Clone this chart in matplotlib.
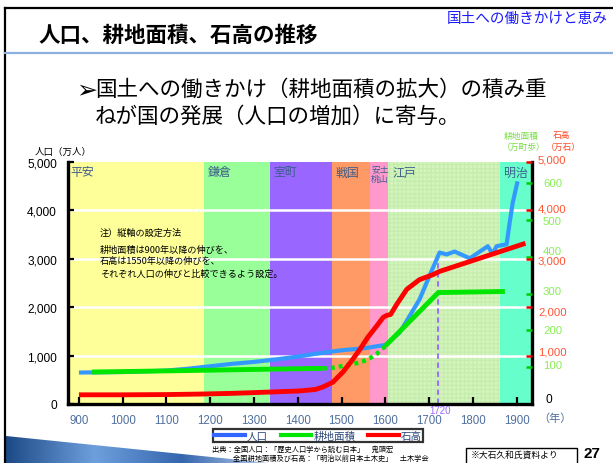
import numpy as np
import matplotlib
matplotlib.use("Agg")
import matplotlib.pyplot as plt
from matplotlib.patches import Polygon, Rectangle
from matplotlib.lines import Line2D

plt.rcParams['font.family'] = ['Noto Sans CJK JP', 'DejaVu Sans']

# population (万人)
pop_years = [900, 1000, 1100, 1150, 1200, 1250, 1300, 1350, 1400, 1450, 1500, 1550, 1600,
             1633, 1678, 1708, 1724, 1740, 1758, 1793, 1834, 1845, 1854, 1877, 1884, 1891, 1902]
pop_vals = [650, 660, 690, 730, 780, 830, 870, 920, 980, 1050, 1110, 1150, 1220,
            1480, 2160, 2800, 3130, 3090, 3150, 3010, 3260, 3100, 3260, 3300, 3750, 4160, 4600]

# cultivated area (万町歩): solid / dotted / solid
area_years_a = [930, 1100, 1200, 1300, 1457]
area_vals_a = [87, 90, 92, 94, 97]
area_years_b = [1457, 1477, 1496, 1515, 1534, 1549, 1564, 1580, 1591, 1602]
area_vals_b = [97, 98, 102, 106, 111, 116, 124, 136, 149, 158]
area_years_c = [1600, 1721, 1873]
area_vals_c = [158, 303, 306]

# kokudaka (万石)
koku_years = [900, 1000, 1100, 1176, 1250, 1300, 1404, 1440, 1457, 1480, 1503, 1522, 1542,
              1560, 1580, 1595, 1603, 1612, 1626, 1649, 1678, 1708, 1724, 1920]
koku_vals = [190, 190, 195, 205, 220, 235, 270, 300, 350, 450, 660, 880, 1130,
             1380, 1610, 1790, 1830, 1850, 2060, 2370, 2570, 2670, 2740, 3320]

era_names = ['平安', '鎌倉', '室町', '戦国', '安土\n桃山', '江戸', '明治']
era_bounds = [875, 1185, 1336, 1478, 1565, 1605, 1862, 1935]
era_colors = ['#FFFF99', '#99FF99', '#9966FF', '#FF9966', '#FF99CC', '#D3F5BD', '#66FFCC']

x_ticks = [900, 1000, 1100, 1200, 1300, 1400, 1500, 1600, 1700, 1800, 1900]
pop_ticks = [0, 1000, 2000, 3000, 4000, 5000]
area_ticks = [100, 200, 300, 400, 500, 600]
koku_ticks = [1000, 2000, 3000, 4000, 5000]
mark_year = 1720
mark_top = 3100

W, H = 613, 464
fig = plt.figure(figsize=(W / 100, H / 100), dpi=100)

# pixel-coordinate overlay layer (drawn on top)
bg = fig.add_axes([0, 0, 1, 1])
bg.set_zorder(10)
bg.axis('off')

bg.plot([5, 5], [9, H], color='black', lw=1.6)
bg.plot([5, W], [9, 9], color='black', lw=1.6)
bg.plot([5, W], [54, 54], color='#8DB0DE', lw=1.6)

grad = np.linspace(0, 1, 256)
grad = np.vstack([grad, grad])
swoosh = Polygon([(6, 437), (270, 464), (6, 464)], closed=True, transform=bg.transData,
                 facecolor='none', edgecolor='none')
bg.add_patch(swoosh)
cm = matplotlib.colors.LinearSegmentedColormap.from_list(
    'sw', ['#1C4A86', '#6E9FDD', '#3566AE', '#BCD0EE'])
im = bg.imshow(grad, cmap=cm, extent=[6, 270, 464, 437], aspect='auto')
im.set_clip_path(swoosh)
bg.set_xlim(0, W)
bg.set_ylim(H, 0)

bg.text(38, 35, '人口、耕地面積、石高の推移', fontsize=15.5, fontweight='bold', va='center')
bg.text(447, 19, '国土への働きかけと恵み', fontsize=10.5, color='#1a1aff', va='center')
bg.text(76, 90, '➢', fontsize=18, va='center', family='DejaVu Sans')
bg.text(95, 90, '国土への働きかけ（耕地面積の拡大）の積み重', fontsize=15.5, va='center')
bg.text(95, 117, 'ねが国の発展（人口の増加）に寄与。', fontsize=15.5, va='center')

bg.text(35, 152, '人口（万人）', fontsize=6.8, va='center')
bg.text(504, 136, '耕地面積', fontsize=6.3, color='#77DD44', va='center')
bg.text(553, 136, '石高', fontsize=6.3, color='#FF4422', va='center')
bg.text(502, 147, '（万町歩）', fontsize=6.3, color='#77DD44', va='center')
bg.text(546, 147, '（万石）', fontsize=6.3, color='#FF4422', va='center')
bg.text(538, 419, '（年）', fontsize=8, color='#4F6F9F', va='center')

bg.text(212, 450, '出典：全国人口：「歴史人口学から読む日本」　鬼頭宏', fontsize=5.2, va='center')
bg.text(233, 459, '全国耕地面積及び石高：「明治以前日本土木史」　土木学会', fontsize=5.2, va='center')
bg.add_patch(Rectangle((466, 449), 111, 20, facecolor='white', edgecolor='black', lw=1))
bg.text(471, 455, '※大石久和氏資料より', fontsize=6.3, va='center')
bg.text(584, 454, '27', fontsize=11, fontweight='bold', va='center', family='Liberation Sans')

# main chart
ax = fig.add_axes([68 / W, 59 / H, 464 / W, 242 / H])
ax.set_xlim(era_bounds[0], era_bounds[-1])
ax.set_ylim(0, 5000)
for i, name in enumerate(era_names):
    ax.axvspan(era_bounds[i], era_bounds[i + 1], color=era_colors[i], lw=0, zorder=0.5)
ax.axvspan(era_bounds[5], era_bounds[6], facecolor='none', edgecolor='#C6EDAE',
           hatch='++++', lw=0, zorder=0.6)
for t in pop_ticks[1:-1]:
    ax.axhline(t, color='white', lw=1.8, zorder=0.8)

era_px = [70, 208, 273, 336, 371, 393, 504]
for name, px in zip(era_names, era_px):
    small = '\n' in name
    bg.text(px, 165 if small else 173, name, fontsize=6.3 if small else 8.6,
            color='#3D5E8C', va='top' if small else 'center', linespacing=1.15)

ax.plot(pop_years, pop_vals, color='#3399FF', lw=3, solid_capstyle='butt', zorder=3)
ax.vlines(mark_year, 0, mark_top, colors='#9966FF', linestyles=(0, (3, 2)), lw=1.3, zorder=2)

ax.set_xticks(x_ticks)
ax.set_xticklabels([str(x) for x in x_ticks], color='#4F6F9F', fontsize=8.3,
                   family='Liberation Sans')
ax.set_yticks(pop_ticks)
ax.set_yticklabels(['{:,}'.format(v) for v in pop_ticks], fontsize=8.6, family='Liberation Sans')
ax.tick_params(axis='x', direction='in', length=5, width=1.6, pad=7)
ax.tick_params(axis='y', direction='in', length=4, width=1.6, pad=8)
ax.tick_params(axis='y', which='both', right=False)
for s in ['left', 'bottom', 'right']:
    ax.spines[s].set_linewidth(2.4)
ax.spines['top'].set_visible(False)
bg.text(440, 411, str(mark_year), fontsize=7, color='#9966FF', ha='center', va='center',
        family='Liberation Sans')

# cultivated area axis
ax2 = ax.twinx()
ax2.set_ylim(0, 658)
ax2.plot(area_years_a, area_vals_a, color='#00E600', lw=3.5, solid_capstyle='butt')
ax2.plot(area_years_b, area_vals_b, color='#00E600', lw=3.2, linestyle=(0, (0.9, 0.9)))
ax2.plot(area_years_c, area_vals_c, color='#00E600', lw=3.5, solid_capstyle='butt')
ax2.set_yticks(area_ticks)
ax2.tick_params(axis='y', direction='in', length=4, width=1.8, color='#00CC00', labelright=False)
for s in ax2.spines.values():
    s.set_visible(False)
# label nudges as in the original slide (pixels, + = up)
area_nudge = [2, 0, 3, 6, -1, 0]
for v, dy in zip(area_ticks, area_nudge):
    ax2.annotate(str(v), xy=(1, v), xycoords=ax2.get_yaxis_transform(),
                 xytext=(11, dy), textcoords='offset pixels', fontsize=8.2,
                 color='#88EE55', va='center', family='Liberation Sans')

# kokudaka axis
ax3 = ax.twinx()
ax3.set_ylim(0, 5000)
ax3.plot(koku_years, koku_vals, color='#FF0000', lw=3.5, solid_capstyle='butt')
ax3.set_yticks(koku_ticks)
ax3.tick_params(axis='y', direction='in', length=4, width=1.8, color='#EE0000', labelright=False)
for s in ax3.spines.values():
    s.set_visible(False)
koku_nudge = [4, -4, -2, 2, 2]
for v, dy in zip(koku_ticks, koku_nudge):
    ax3.annotate('{:,}'.format(v), xy=(1, v), xycoords=ax3.get_yaxis_transform(),
                 xytext=(6, dy), textcoords='offset pixels', fontsize=8.2,
                 color='#FF5533', va='center', family='Liberation Sans')
bg.text(545, 400, '0', fontsize=8.6, va='center', family='Liberation Sans')

# note
bg.text(100, 233, '注）縦軸の設定方法', fontsize=6.6, va='center')
bg.text(100, 250, '耕地面積は900年以降の伸びを、', fontsize=6.6, va='center')
bg.text(100, 262, '石高は1550年以降の伸びを、', fontsize=6.6, va='center')
bg.text(100, 274, 'それぞれ人口の伸びと比較できるよう設定。', fontsize=6.6, va='center')

handles = [Line2D([], [], color='#3366FF', lw=3),
           Line2D([], [], color='#00E600', lw=3),
           Line2D([], [], color='#FF0000', lw=3)]
leg = fig.legend(handles, ['人口', '耕地面積', '石高'], loc='center',
                 bbox_to_anchor=(318 / W, 1 - 436.5 / H), ncol=3, fontsize=7.6,
                 frameon=True, fancybox=False, edgecolor='black', handlelength=2.9,
                 handletextpad=0.2, columnspacing=1.2, borderpad=0.15, labelcolor='#2E4A7A')
leg.get_frame().set_linewidth(1.6)

fig.savefig('out.png', dpi=100)
